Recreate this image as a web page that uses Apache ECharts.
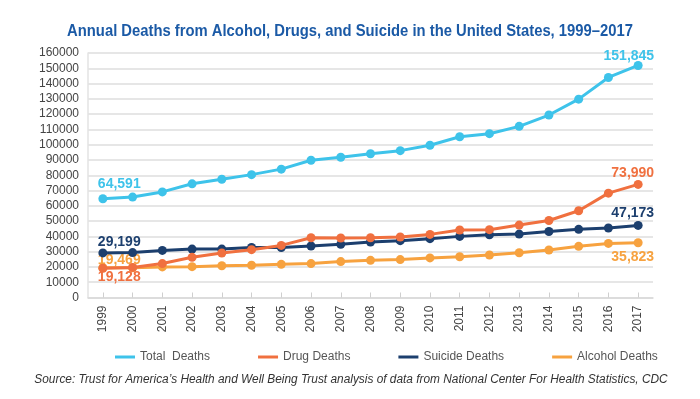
<!DOCTYPE html>
<html>
<head>
<meta charset="utf-8">
<script src="https://cdn.jsdelivr.net/npm/echarts@6/dist/echarts.min.js"></script>
<style>
html,body{margin:0;padding:0;background:#fff;}
#chart{width:700px;height:399px;}
</style>
</head>
<body>
<div id="chart"></div>
<script>
const years = ['1999','2000','2001','2002','2003','2004','2005','2006','2007','2008','2009','2010','2011','2012','2013','2014','2015','2016','2017'];
const totalDeaths   = [64591, 65700, 69100, 74400, 77400, 80400, 84000, 89800, 91800, 94100, 96100, 99600, 105200, 107200, 112000, 119400, 129800, 144000, 151845];
const drugDeaths    = [19128, 19700, 22200, 26300, 29100, 31300, 34100, 39100, 38900, 39100, 39600, 41300, 44200, 44400, 47400, 50400, 56800, 68300, 73990];
const suicideDeaths = [29199, 29400, 30800, 31700, 31700, 32800, 32700, 33700, 34800, 36300, 37200, 38500, 40000, 41100, 41500, 43200, 44600, 45500, 47173];
const alcoholDeaths = [19469, 19450, 20000, 20200, 20800, 21100, 21700, 22200, 23500, 24300, 24800, 25900, 26700, 27800, 29300, 31100, 33500, 35400, 35823];
const yTicks = [0,10000,20000,30000,40000,50000,60000,70000,80000,90000,100000,110000,120000,130000,140000,150000,160000];

const seriesNames = ['Total  Deaths','Drug Deaths','Suicide Deaths','Alcohol Deaths'];
const colors = ['#3ec3ea','#f0703f','#1c3f6e','#f7a23f'];
const titleText = 'Annual Deaths from Alcohol, Drugs, and Suicide in the United States, 1999\u20132017';
const sourceText = "Source: Trust for America\u2019s Health and Well Being Trust analysis of data from National Center For Health Statistics, CDC";
// label offsets [first point, last point]
const labelOffsets = [
  [[-5,-15],[16,-9]],
  [[-5,9],[16,-11]],
  [[-5,-11],[16,-12]],
  [[-5,-8],[16,14]]
];

function fmt(v){ return v.toLocaleString('en-US'); }

function buildData(arr, idx){
  return arr.map((v,i)=>{
    if(i===0 || i===arr.length-1){
      const first = i===0;
      const off = labelOffsets[idx][first?0:1];
      return {value:v, label:{show:true, position:'inside', align:first?'left':'right', verticalAlign:'middle', offset:off,
        formatter: fmt(v), color: colors[idx], fontFamily:'Liberation Sans', fontWeight:'bold', fontSize:14}};
    }
    return v;
  });
}

const allSeries = [totalDeaths, drugDeaths, suicideDeaths, alcoholDeaths].map((arr,idx)=>({
  name: seriesNames[idx],
  type:'line',
  data: buildData(arr, idx),
  symbol:'circle',
  symbolSize:9,
  lineStyle:{width:3, color:colors[idx]},
  itemStyle:{color:colors[idx]},
  z: 10-idx,
  animation:false
}));

const chart = echarts.init(document.getElementById('chart'), null, {renderer:'canvas'});
chart.setOption({
  backgroundColor:'#fff',
  animation:false,
  color: colors,
  grid:{left:88, right:47, top:53, bottom:101.5, containLabel:false},
  xAxis:{
    type:'category',
    data: years,
    boundaryGap:true,
    axisLine:{show:true, lineStyle:{color:'#d9d9d9', width:1.5}},
    axisTick:{show:true, inside:true, alignWithLabel:true, length:5, lineStyle:{color:'#cfcfcf'}},
    axisLabel:{rotate:90, margin:8, fontFamily:'Liberation Sans', fontSize:12, color:'#444', interval:0},
    splitLine:{show:false}
  },
  yAxis:{
    type:'value',
    min:0, max:160000, interval:10000,
    axisLine:{show:true, lineStyle:{color:'#e3e3e3', width:1.5}},
    axisTick:{show:false},
    axisLabel:{fontFamily:'Liberation Sans', fontSize:12, color:'#444', margin:9,
      formatter:(v)=> yTicks.includes(v) ? String(v) : ''},
    splitLine:{show:true, lineStyle:{color:'#e6e6e6', width:2}}
  },
  legend:{
    data: seriesNames,
    left:110, top:346,
    icon:'rect', itemWidth:20, itemHeight:3, itemGap:48,
    textStyle:{fontFamily:'Liberation Sans', fontSize:12, color:'#555'}
  },
  graphic:[{
    type:'text', x:350, y:32, scaleX:0.925, scaleY:1,
    style:{text:titleText, align:'center', verticalAlign:'middle',
      font:'bold 16px "Liberation Sans"', fill:'#1b5aa6'}
  },{
    type:'text', x:351, y:380, scaleX:0.95, scaleY:1,
    style:{text:sourceText, align:'center', verticalAlign:'middle',
      font:'italic 12.5px "Liberation Sans"', fill:'#333'}
  }],
  series: allSeries
});
</script>
</body>
</html>
